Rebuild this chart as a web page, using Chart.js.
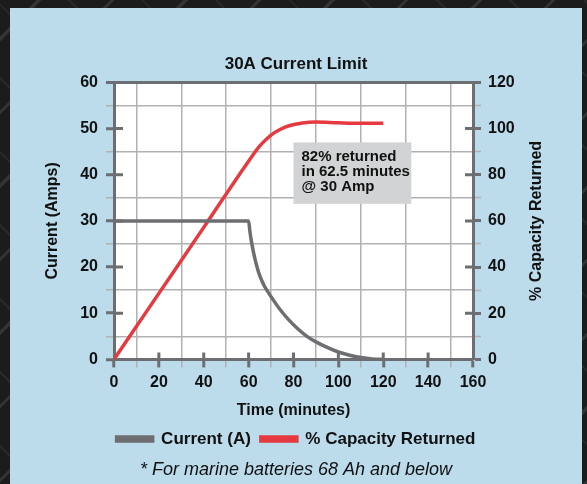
<!DOCTYPE html>
<html>
<head>
<meta charset="utf-8">
<script src="https://cdn.jsdelivr.net/npm/chart.js@4.4.1/dist/chart.umd.min.js"></script>
<style>
  html, body { margin: 0; padding: 0; }
  body {
    width: 587px; height: 484px; overflow: hidden; position: relative;
    background-color: #1c1c1c;
    background-image:
      repeating-linear-gradient(135deg, rgba(255,255,255,0) 0 26px, rgba(255,255,255,0.10) 26px 29px, rgba(255,255,255,0) 29px 52px),
      repeating-linear-gradient(45deg, rgba(0,0,0,0) 0 26px, rgba(255,255,255,0.06) 26px 28px, rgba(0,0,0,0) 28px 52px);
  }
  #wrap { position: absolute; left: 10px; top: 8px; width: 572px; height: 476px; background: #bcdbeb; }
</style>
</head>
<body>
<div id="wrap"><canvas id="chargeChart" width="572" height="476"></canvas></div>
<script>
// current (A) vs time (minutes)
const currentMinutes = [0, 60, 60.5, 61, 62, 63, 64, 65, 67, 70, 74, 78, 82, 86, 90, 95, 100, 105, 110, 115, 120];
const currentAmps    = [30, 30, 28, 26.3, 23.6, 21.4, 19.6, 18.1, 15.9, 13.6, 10.8, 8.5, 6.6, 5.0, 3.8, 2.6, 1.6, 0.9, 0.4, 0.1, 0];
// % capacity returned vs time (minutes)
const capacityMinutes = [0, 20, 40, 62, 64, 66, 70, 74, 78, 84, 90, 100, 110, 120];
const capacityPercent = [0, 28.6, 57.2, 88.7, 91.3, 93.6, 97.2, 99.6, 101.2, 102.4, 102.8, 102.5, 102.3, 102.3];

const timeRange = [0, 160];
const ampsRange = [0, 60];
const percentRange = [0, 120];

const noteMinutes = [80, 132.5];
const noteAmps = [47, 33.7];
const noteLines = ['82% returned', 'in 62.5 minutes', '@ 30 Amp'];

const axisColor = '#6d6e71';
const gridColor = '#b1b1b1';
const redColor = '#e43a40';
const fontFamily = "'Liberation Sans', Arial, sans-serif";

const toPoints = (xs, ys) => xs.map((v, i) => ({x: v, y: ys[i]}));

const plotExtras = {
  id: 'plotExtras',
  beforeDraw(chart) {
    const {ctx, chartArea: a} = chart;
    ctx.save();
    ctx.fillStyle = '#ffffff';
    ctx.fillRect(a.left, a.top, a.right - a.left, a.bottom - a.top);
    ctx.restore();
  },
  beforeDatasetsDraw(chart) {
    // tick marks that also reach into the plot
    const {ctx, chartArea: a, scales} = chart;
    ctx.save();
    ctx.strokeStyle = axisColor;
    ctx.lineWidth = 3;
    ctx.beginPath();
    scales.y.ticks.forEach(t => {
      if (t.value % 10 === 0 && t.value > 0 && t.value < ampsRange[1]) {
        const p = scales.y.getPixelForValue(t.value);
        ctx.moveTo(a.left, p); ctx.lineTo(a.left + 9, p);
      }
    });
    scales.y1.ticks.forEach(t => {
      if (t.value % 20 === 0 && t.value > 0 && t.value < percentRange[1]) {
        const p = scales.y1.getPixelForValue(t.value);
        ctx.moveTo(a.right, p); ctx.lineTo(a.right - 8, p);
      }
    });
    scales.x.ticks.forEach(t => {
      if (t.value % 20 === 0 && t.value > 0 && t.value < timeRange[1]) {
        const p = scales.x.getPixelForValue(t.value);
        ctx.moveTo(p, a.bottom); ctx.lineTo(p, a.bottom - 7);
      }
    });
    ctx.stroke();
    ctx.restore();
  },
  afterDatasetsDraw(chart) {
    const {ctx, chartArea: a, scales: {x, y}} = chart;
    const x0 = x.getPixelForValue(noteMinutes[0]);
    const x1 = x.getPixelForValue(noteMinutes[1]);
    const y0 = y.getPixelForValue(noteAmps[0]);
    const y1 = y.getPixelForValue(noteAmps[1]);
    ctx.save();
    ctx.fillStyle = '#d1d3d4';
    ctx.fillRect(x0, y0, x1 - x0, y1 - y0);
    ctx.fillStyle = '#111';
    ctx.font = 'bold 15px ' + fontFamily;
    ctx.textBaseline = 'middle';
    noteLines.forEach((s, i) => ctx.fillText(s, x0 + 8, y0 + 14 + i * 15));

    // vertical axis titles, both reading bottom to top
    ctx.font = 'bold 16px ' + fontFamily;
    ctx.textAlign = 'center';
    const midY = (a.top + a.bottom) / 2;
    ctx.translate(a.left - 61, midY);
    ctx.rotate(-Math.PI / 2);
    ctx.fillText('Current (Amps)', 0, 0);
    ctx.rotate(Math.PI / 2);
    ctx.translate(a.right - a.left + 61 + 64, 0);
    ctx.rotate(-Math.PI / 2);
    ctx.fillText('% Capacity Returned', 0, 0);
    ctx.restore();
  }
};

Chart.defaults.font.family = fontFamily;
Chart.defaults.color = '#111';

const tickFont = {size: 16, weight: 'bold'};

new Chart(document.getElementById('chargeChart'), {
  type: 'line',
  data: {
    datasets: [{
      label: 'Current (A)',
      data: toPoints(currentMinutes, currentAmps),
      borderColor: axisColor,
      backgroundColor: axisColor,
      borderWidth: 3.5,
      pointRadius: 0,
      cubicInterpolationMode: 'monotone',
      yAxisID: 'y'
    }, {
      label: '% Capacity Returned',
      data: toPoints(capacityMinutes, capacityPercent),
      borderColor: redColor,
      backgroundColor: redColor,
      borderWidth: 3.5,
      pointRadius: 0,
      cubicInterpolationMode: 'monotone',
      yAxisID: 'y1'
    }]
  },
  options: {
    responsive: false,
    animation: false,
    layout: {padding: 0},
    plugins: {
      title: {
        display: true,
        text: '30A Current Limit',
        font: {size: 17, weight: 'bold'},
        padding: {top: 46, bottom: 8}
      },
      subtitle: {
        display: true,
        position: 'bottom',
        text: '* For marine batteries 68 Ah and below',
        font: {size: 18, style: 'italic', weight: 'normal'},
        padding: {top: 2, bottom: 3}
      },
      legend: {
        position: 'bottom',
        labels: {
          boxWidth: 36,
          boxHeight: 4,
          padding: 10,
          font: {size: 17, weight: 'bold'}
        }
      },
      tooltip: {enabled: false}
    },
    scales: {
      x: {
        type: 'linear',
        min: timeRange[0],
        max: timeRange[1],
        afterFit: s => { s.height = 61; },
        ticks: {
          stepSize: 10,
          autoSkip: false,
          maxRotation: 0,
          padding: 6,
          font: tickFont,
          callback: v => (v % 20 === 0 ? v : '')
        },
        grid: {
          color: c => (c.tick && c.tick.value % 20 === 10 ? gridColor : 'rgba(0,0,0,0)'),
          tickColor: c => (c.tick && c.tick.value % 20 === 0 ? axisColor : gridColor),
          lineWidth: 1.5,
          tickWidth: c => (c.tick && c.tick.value % 20 === 0 ? 3 : 1.5),
          tickLength: 8
        },
        border: {color: axisColor, width: 3},
        title: {
          display: true,
          text: 'Time (minutes)',
          font: {size: 16, weight: 'bold'},
          padding: {top: 4, bottom: 0}
        }
      },
      y: {
        position: 'left',
        min: ampsRange[0],
        max: ampsRange[1],
        afterFit: s => { s.width = 104; },
        ticks: {
          stepSize: 5,
          autoSkip: false,
          padding: 8,
          font: tickFont,
          callback: v => (v % 10 === 0 ? v : '')
        },
        grid: {
          color: c => {
            const v = c.tick ? c.tick.value : 0;
            if (v === ampsRange[1]) return axisColor;
            return v % 10 === 5 ? gridColor : 'rgba(0,0,0,0)';
          },
          lineWidth: c => (c.tick && c.tick.value === ampsRange[1] ? 3 : 1.5),
          tickColor: c => (c.tick && c.tick.value % 10 === 0 ? axisColor : gridColor),
          tickWidth: c => (c.tick && c.tick.value % 10 === 0 ? 3 : 1.5),
          tickLength: 8
        },
        border: {color: axisColor, width: 3}
      },
      y1: {
        position: 'right',
        min: percentRange[0],
        max: percentRange[1],
        afterFit: s => { s.width = 109; },
        ticks: {
          stepSize: 10,
          autoSkip: false,
          padding: 7,
          font: tickFont,
          callback: v => (v % 20 === 0 ? v : '')
        },
        grid: {
          drawOnChartArea: false,
          tickColor: c => (c.tick && c.tick.value % 20 === 0 ? axisColor : gridColor),
          tickWidth: c => (c.tick && c.tick.value % 20 === 0 ? 3 : 1.5),
          tickLength: 8
        },
        border: {color: axisColor, width: 3}
      }
    }
  },
  plugins: [plotExtras]
});
</script>
</body>
</html>
